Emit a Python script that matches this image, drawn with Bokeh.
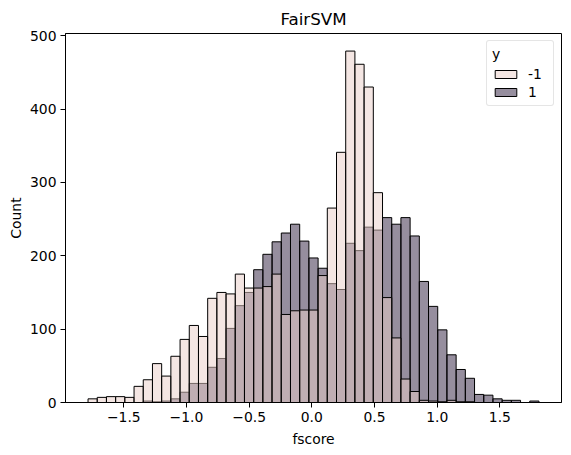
from bokeh.plotting import figure
from bokeh.models import Range1d, FixedTicker, Legend, LegendItem, ColumnDataSource
from bokeh.embed import file_html
from bokeh.resources import INLINE

# ---- data ----
bin_start = -1.785
bin_width = 0.0734
counts_neg = [5, 7, 8, 8, 7, 22, 31, 53, 36, 63,
              86, 105, 90, 142, 150, 148, 175, 156, 156, 158,
              175, 120, 125, 126, 126, 173, 265, 341, 479, 461,
              430, 286, 143, 88, 32, 15, 3, 2, 1, 3,
              1, 1, 0, 0, 0, 0, 0, 0, 0]
counts_pos = [0, 0, 0, 0, 0, 0, 2, 1, 2, 5,
              14, 26, 26, 48, 60, 101, 132, 150, 181, 202,
              219, 231, 243, 220, 197, 183, 162, 154, 217, 207,
              239, 235, 252, 243, 252, 227, 165, 131, 99, 65,
              45, 33, 11, 10, 5, 3, 3, 0, 2]
x_ticks = [-1.5, -1.0, -0.5, 0.0, 0.5, 1.0, 1.5]
x_tick_labels = ["\u22121.5", "\u22121.0", "\u22120.5", "0.0", "0.5", "1.0", "1.5"]
y_ticks = [0, 100, 200, 300, 400, 500]
hue_labels = ["-1", "1"]
title_text = "FairSVM"
x_label = "fscore"
y_label = "Count"

n_bins = len(counts_neg)
lefts = [bin_start + i * bin_width for i in range(n_bins)]
rights = [bin_start + (i + 1) * bin_width for i in range(n_bins)]
span = rights[-1] - lefts[0]
x_lo = lefts[0] - 0.05 * span
x_hi = rights[-1] + 0.05 * span
y_hi = max(max(counts_neg), max(counts_pos)) * 1.05

FONT = "DejaVu Sans"
col_neg = "#eacec8"
col_pos = "#2d1e3e"

p = figure(width=571, height=455, output_backend="svg", toolbar_location=None,
           x_range=Range1d(x_lo, x_hi), y_range=Range1d(0, y_hi),
           min_border_left=65, min_border_right=10, min_border_top=33,
           min_border_bottom=53, title=title_text)
p.background_fill_color = "white"
p.border_fill_color = "white"
p.grid.visible = False
p.outline_line_color = "black"
p.outline_line_width = 1

p.title.align = "center"
p.title.text_font = FONT
p.title.text_font_size = "16.7px"
p.title.text_font_style = "normal"
p.title.text_color = "black"

src_pos = ColumnDataSource(dict(left=lefts, right=rights, top=counts_pos, bottom=[0] * n_bins))
src_neg = ColumnDataSource(dict(left=lefts, right=rights, top=counts_neg, bottom=[0] * n_bins))

r_pos = p.quad(left="left", right="right", top="top", bottom="bottom", source=src_pos,
               fill_color=col_pos, fill_alpha=0.5, line_color="black", line_width=1)
r_neg = p.quad(left="left", right="right", top="top", bottom="bottom", source=src_neg,
               fill_color=col_neg, fill_alpha=0.5, line_color="black", line_width=1)

for ax in (p.xaxis[0], p.yaxis[0]):
    ax.axis_line_color = "black"
    ax.major_tick_line_color = "black"
    ax.minor_tick_line_color = None
    ax.major_tick_out = 5
    ax.major_tick_in = 0
    ax.major_label_standoff = 4
    ax.major_label_text_font = FONT
    ax.major_label_text_font_size = "13.9px"
    ax.major_label_text_color = "black"
    ax.axis_label_text_font = FONT
    ax.axis_label_text_font_size = "13.9px"
    ax.axis_label_text_font_style = "normal"
    ax.axis_label_text_color = "black"
    ax.axis_label_standoff = 6

p.yaxis[0].axis_label_standoff = 3
p.xaxis[0].ticker = FixedTicker(ticks=x_ticks)
p.xaxis[0].major_label_overrides = {t: l for t, l in zip(x_ticks, x_tick_labels)}
p.xaxis[0].axis_label = x_label
p.yaxis[0].ticker = FixedTicker(ticks=y_ticks)
p.yaxis[0].axis_label = y_label

legend = Legend(items=[LegendItem(label=hue_labels[0], renderers=[r_neg]),
                       LegendItem(label=hue_labels[1], renderers=[r_pos])],
                location="top_right", title="y")
legend.title_text_font = FONT
legend.title_text_font_size = "13.9px"
legend.title_text_font_style = "normal"
legend.title_text_color = "black"
legend.title_standoff = 4
legend.label_text_font = FONT
legend.label_text_font_size = "13.9px"
legend.label_text_color = "black"
legend.label_standoff = 9
legend.glyph_width = 27
legend.glyph_height = 10
legend.spacing = 2
legend.padding = 5
legend.margin = 7
legend.border_line_color = "#cccccc"
legend.border_line_width = 1
legend.background_fill_alpha = 0.8
try:
    legend.border_radius = 3
except Exception:
    pass
p.add_layout(legend)

open("out.html", "w").write(file_html(p, INLINE))
